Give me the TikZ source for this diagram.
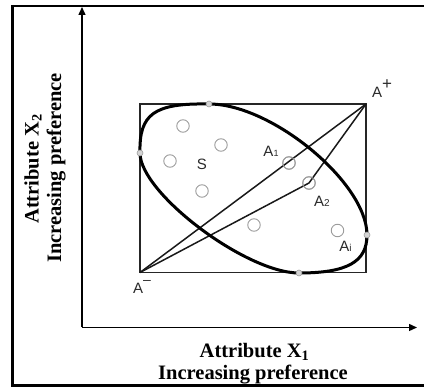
\documentclass[tikz,border=0pt]{standalone}
\usepackage{fontspec}
\setmainfont{Liberation Serif}
\newfontfamily\labfont{Liberation Sans}
\usetikzlibrary{arrows.meta}
\definecolor{circgray}{HTML}{9C9C9C}
\definecolor{dotfill}{HTML}{D4D4D4}
\definecolor{labgray}{HTML}{2A2A2A}
\tikzset{
  frameline/.style={line width=2.2pt, black},
  axisline/.style={line width=1.4pt, black, -{Triangle[length=8pt,width=7pt]}},
  boxline/.style={line width=1.3pt, black!85},
  rayline/.style={line width=1.5pt, black!90},
  ellipseline/.style={line width=3pt, black},
  altcirc/.style={draw=circgray, line width=0.9pt, circle, minimum size=12.5pt, inner sep=0pt},
  tdot/.style={draw=circgray, fill=dotfill, line width=0.6pt, circle, minimum size=6pt, inner sep=0pt},
  ptlabel/.style={font=\labfont\fontsize{15}{17}\selectfont, text=labgray, inner sep=0pt},
  axlabel/.style={font=\bfseries\fontsize{20.5}{23}\selectfont, inner sep=0pt}
}
\begin{document}
\begin{tikzpicture}[x=1pt,y=-1pt]
\useasboundingbox (0,0) rectangle (424,387);
% outer frame
\coordinate (FTL) at (11,6);
\coordinate (FTR) at (424,6);
\coordinate (FBL) at (11,385.5);
\coordinate (FBR) at (424,385.5);
\draw[frameline] (FTL) -- (FTR);
\draw[frameline] (FBL) -- (FBR);
\draw[line width=3.6pt] (12.5,4.9) -- (12.5,386.6);
% axes
\coordinate (O) at (82,327.5);
\coordinate (Ytop) at (82,7);
\coordinate (Xend) at (417,327.5);
\draw[axisline] (O) -- (Ytop);
\draw[axisline] (O) -- (Xend);
% axis labels
\node[axlabel, rotate=90, anchor=base] (ylab1) at (38.5,169) {Attribute X\textsubscript{2}};
\node[axlabel, rotate=90, anchor=base] (ylab2) at (61,168) {Increasing preference};
\node[axlabel, anchor=base] (xlab1) at (254.5,357.5) {Attribute X\textsubscript{1}};
\node[axlabel, anchor=base] (xlab2) at (253,380) {Increasing preference};
% ideal / anti-ideal box
\coordinate (Am) at (140,272.5);
\coordinate (Ap) at (366,104);
\draw[boxline] (Am) rectangle (Ap);
% rays
\node[altcirc] (A1c) at (289,163) {};
\node[altcirc] (A2c) at (309,183) {};
\draw[rayline] (Am) -- (Ap);
\draw[rayline] (Am) -- (A2c.center) -- (Ap);
% ellipse
\coordinate (T) at (209,104);
\coordinate (L) at (140,153);
\coordinate (B) at (299,273);
\coordinate (R) at (367,235);
\draw[ellipseline] (T) .. controls (154,103) and (139,114) .. (L)
  .. controls (140,193) and (246,273) .. (B)
  .. controls (347,273) and (367,262) .. (R)
  .. controls (367,183) and (272,104) .. (T);
% alternatives
\node[altcirc] (c1) at (183,126) {};
\node[altcirc] (c2) at (221,145) {};
\node[altcirc] (c3) at (170,161) {};
\node[altcirc] (c4) at (202,191) {};
\node[altcirc] (c5) at (254,225) {};
\node[altcirc] (c6) at (337.5,230.5) {};
\node[altcirc] at (A1c) {};
\node[altcirc] at (A2c) {};
% tangent dots
\node[tdot] (dT) at (T) {};
\node[tdot] (dL) at (L) {};
\node[tdot] (dB) at (B) {};
\node[tdot] (dR) at (R) {};
% labels
\node[ptlabel] (lS) at (202,164.5) {S};
\node[ptlabel] (lA1) at (271,151.5) {A{\fontsize{9}{10}\selectfont 1}};
\node[ptlabel] (lA2) at (322,201.5) {A{\fontsize{10}{10}\selectfont 2}};
\node[ptlabel] (lAi) at (345.5,246.5) {A{\fontsize{10}{10}\selectfont i}};
\node[ptlabel] (lAp) at (382,89) {A\raisebox{1.0ex}{\fontsize{17}{17}\selectfont +}};
\node[ptlabel] (lAm) at (142,287) {A\raisebox{1.1ex}{\fontsize{14}{14}\selectfont \textendash}};
\end{tikzpicture}
\end{document}
